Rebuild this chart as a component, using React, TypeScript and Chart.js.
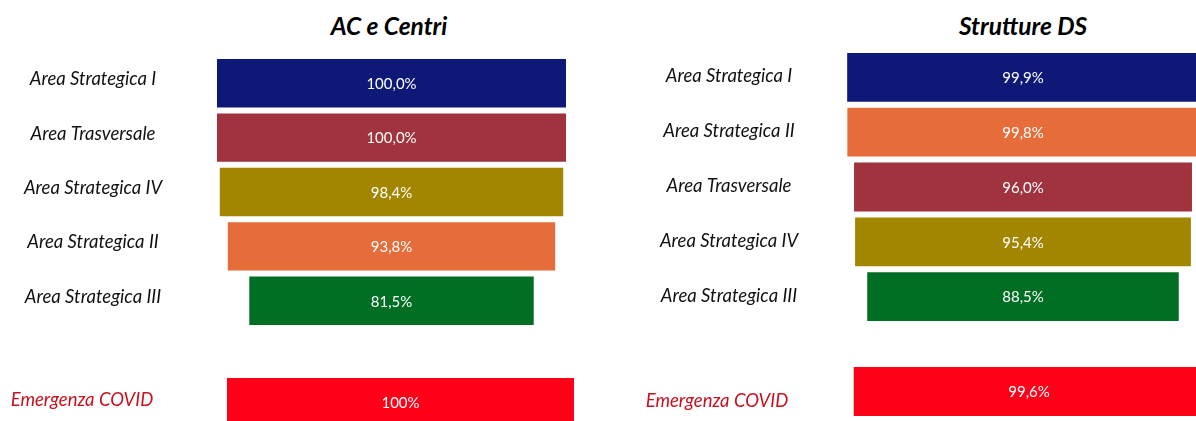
import React, { useEffect, useRef } from 'react';
import { Chart, registerables } from 'chart.js';

Chart.register(...registerables);

// ---------- data ----------
const acTitle = 'AC e Centri';
const dsTitle = 'Strutture DS';

const acCategories = ['Area Strategica I', 'Area Trasversale', 'Area Strategica IV', 'Area Strategica II', 'Area Strategica III'];
const acValues = [100.0, 100.0, 98.4, 93.8, 81.5];
const acColors = ['#0e1877', '#a0333e', '#a38600', '#e66c3a', '#006e23'];

const dsCategories = ['Area Strategica I', 'Area Strategica II', 'Area Trasversale', 'Area Strategica IV', 'Area Strategica III'];
const dsValues = [99.9, 99.8, 96.0, 95.4, 88.5];
const dsColors = ['#0e1877', '#e66c3a', '#a0333e', '#a38600', '#006e23'];

const covidCategories = ['Emergenza COVID'];
const acCovidValues = [100];
const dsCovidValues = [99.6];
const covidColors = ['#ff0019'];

// ---------- styles ----------
const FONT_FAMILY = 'Lato';
const LABEL_SIZE = 18.5;
const VALUE_SIZE = 15;

type Box = { left: number; top: number; width: number; height: number };

interface FunnelProps {
  box: Box;
  axisWidth: number;
  labelCenter: number;
  labelColor: string;
  labelOffset: number;
  categories: string[];
  values: number[];
  colors: string[];
  decimals: number;
}

function fmt(v: number, d: number) {
  return v.toFixed(d).replace('.', ',') + '%';
}

function FunnelChart(p: FunnelProps) {
  const ref = useRef<HTMLCanvasElement>(null);
  useEffect(() => {
    const canvas = ref.current!;
    const m = document.createElement('canvas').getContext('2d')!;
    m.font = `italic ${LABEL_SIZE}px ${FONT_FAMILY}`;
    const widest = Math.max(...p.categories.map((c) => m.measureText(c).width));
    const pad = p.axisWidth - p.labelCenter - widest / 2;

    const valuePlugin = {
      id: 'valueLabels',
      afterDatasetsDraw(chart: any) {
        const ctx = chart.ctx;
        const meta = chart.getDatasetMeta(0);
        ctx.save();
        ctx.fillStyle = '#ffffff';
        ctx.font = `normal ${VALUE_SIZE}px ${FONT_FAMILY}`;
        ctx.textAlign = 'center';
        ctx.textBaseline = 'middle';
        meta.data.forEach((el: any, i: number) => {
          const cx = (el.x + el.base) / 2;
          ctx.fillText(fmt(p.values[i], p.decimals), cx, el.y + 1);
        });
        ctx.restore();
      },
    };

    const chart = new Chart(canvas, {
      type: 'bar',
      data: {
        labels: p.categories,
        datasets: [
          {
            data: p.values.map((v) => [-v / 2, v / 2]) as any,
            backgroundColor: p.colors,
            borderWidth: 0,
            barPercentage: 0.89,
            categoryPercentage: 1,
          },
        ],
      },
      options: {
        indexAxis: 'y',
        responsive: false,
        animation: false,
        layout: { padding: 0 },
        plugins: {
          legend: { display: false },
          tooltip: { enabled: false },
          title: { display: false },
        },
        scales: {
          x: { type: 'linear', min: -50, max: 50, display: false },
          y: {
            type: 'category',
            grid: { display: false, drawTicks: false },
            border: { display: false },
            ticks: {
              padding: pad,
              crossAlign: 'center',
              color: p.labelColor,
              labelOffset: p.labelOffset,
              font: { family: FONT_FAMILY, size: LABEL_SIZE, style: 'italic' },
            },
            afterFit: (s: any) => {
              s.width = p.axisWidth;
              s.paddingTop = 0;
              s.paddingBottom = 0;
            },
          },
        },
      } as any,
      plugins: [valuePlugin],
    });
    return () => chart.destroy();
  }, []);

  return (
    <canvas
      ref={ref}
      width={p.box.width}
      height={p.box.height}
      style={{ position: 'absolute', left: p.box.left, top: p.box.top, width: p.box.width, height: p.box.height }}
    />
  );
}

const titleStyle = (cx: number): React.CSSProperties => ({
  position: 'absolute',
  left: cx - 150,
  width: 300,
  top: 11,
  textAlign: 'center',
  fontFamily: FONT_FAMILY,
  fontStyle: 'italic',
  fontWeight: 'bold',
  fontSize: 24.5,
  lineHeight: '30px',
  color: '#000',
});

export default function App() {
  return (
    <div
      style={{
        position: 'absolute',
        left: 0,
        top: 0,
        width: 1196,
        height: 421,
        overflow: 'hidden',
        background: '#fff',
      }}
    >
      <div style={titleStyle(389)}>{acTitle}</div>
      <div style={titleStyle(1023)}>{dsTitle}</div>

      <FunnelChart
        box={{ left: 0, top: 56, width: 566, height: 272 }}
        axisWidth={217}
        labelCenter={93}
        labelColor="#111111"
        labelOffset={-4}
        categories={acCategories}
        values={acValues}
        colors={acColors}
        decimals={1}
      />
      <FunnelChart
        box={{ left: 600, top: 50, width: 599, height: 274 }}
        axisWidth={247}
        labelCenter={129}
        labelColor="#111111"
        labelOffset={-1}
        categories={dsCategories}
        values={dsValues}
        colors={dsColors}
        decimals={1}
      />
      <FunnelChart
        box={{ left: 0, top: 375, width: 574, height: 55 }}
        axisWidth={227}
        labelCenter={82}
        labelColor="#c8101e"
        labelOffset={-2}
        categories={covidCategories}
        values={acCovidValues}
        colors={covidColors}
        decimals={0}
      />
      <FunnelChart
        box={{ left: 600, top: 364, width: 605, height: 55 }}
        axisWidth={253}
        labelCenter={117}
        labelColor="#c8101e"
        labelOffset={10}
        categories={covidCategories}
        values={dsCovidValues}
        colors={covidColors}
        decimals={1}
      />
    </div>
  );
}
